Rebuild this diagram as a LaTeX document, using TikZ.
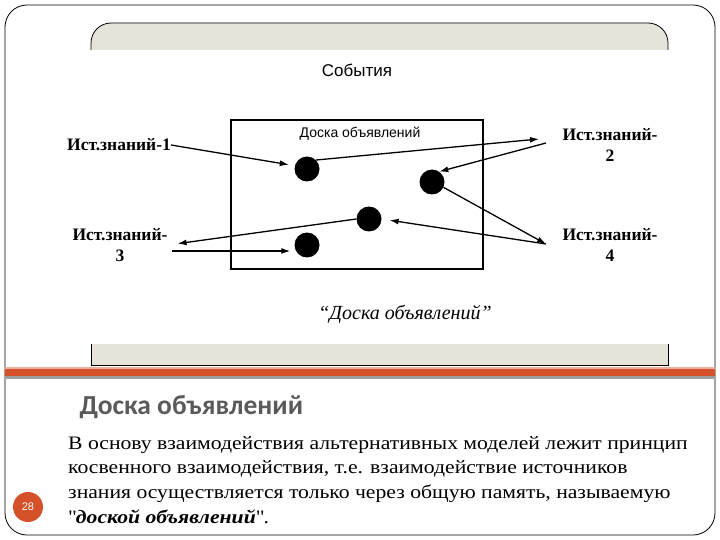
\documentclass[tikz,border=0pt]{standalone}
\usepackage{fontspec}
\setmainfont{Liberation Serif}
\newfontfamily\bodyfont[FakeStretch=1.14]{Liberation Serif}
\newfontfamily\headfont{Carlito}
\newfontfamily\labelfont{Liberation Sans}
\usetikzlibrary{arrows.meta, positioning}

\definecolor{bandgray}{HTML}{E6E3DA}
\definecolor{slideorange}{HTML}{D4512A}
\definecolor{headgray}{HTML}{5A5A5A}

\begin{document}
\begin{tikzpicture}[x=1pt, y=-1pt,
    src/.style={font=\bfseries\fontsize{17.5}{21}\selectfont, align=center, inner sep=0pt},
    dot/.style={circle, fill=black, minimum size=25pt, inner sep=0pt},
    link/.style={-{Latex[length=9pt, width=6pt]}, line width=1.3pt}]
  \useasboundingbox (0,0) rectangle (720,540);

  % Slide frame
  \draw[line width=0.8pt, rounded corners=22pt] (5,5) rectangle (715,535);

  % Picture panel, top tab and bottom strip
  \fill[bandgray, rounded corners=20pt] (91,50) -- (91,23) -- (668,23) -- (668,50);
  \draw[line width=0.8pt, rounded corners=20pt] (91,50) -- (91,23) -- (668,23) -- (668,50);
  \fill[bandgray] (91,344) rectangle (668,365);
  \draw[line width=0.8pt] (91,344) |- (668,365) -- (668,344);

  % Orange band
  \fill[slideorange!45] (5,366.5) rectangle (715,369);
  \fill[slideorange] (5,369) rectangle (715,376);
  \fill[gray!75] (5,376) rectangle (715,379);

  % Board
  \node[font=\labelfont\fontsize{17}{17}\selectfont] (events) at (357,70) {События};
  \draw[line width=1.6pt] (231,120) rectangle (483,269);
  \node[font=\labelfont\fontsize{14}{14}\selectfont] (boardtitle) at (360,134) {Доска объявлений};

  \node[dot] (d1) at (307,169) {};
  \node[dot] (d2) at (432,182) {};
  \node[dot] (d3) at (369,219) {};
  \node[dot] (d4) at (307,245) {};

  % Knowledge sources
  \node[src] (ist1) at (119,145) {Ист.знаний-1};
  \node[src] (ist2) at (610,145) {Ист.знаний-\\2};
  \node[src] (ist3) at (120,245) {Ист.знаний-\\3};
  \node[src] (ist4) at (610,245) {Ист.знаний-\\4};

  \coordinate (ist2in) at (539,139);
  \coordinate (ist2out) at (546,143);
  \coordinate (ist4in) at (546,244);
  \coordinate (ist3out) at (172,251);

  % Arrows
  \draw[link, shorten >=6pt] (ist1.east) -- (d1.165);
  \draw[link] (d1.45) -- (ist2in);
  \draw[link] (ist2out) -- (d2.55);
  \draw[link] (d2.-25) -- (ist4in);
  \draw[link, shorten >=8pt] (ist4in) -- (d3.east);
  \draw[link, shorten >=10pt] (d3.west) -- (ist3.east);
  \draw[link, shorten >=4pt] (ist3out) -- (ist3out -| d4.west);

  \node[font=\itshape\fontsize{20}{20}\selectfont] (caption) at (405,314) {“Доска объявлений”};

  % Slide text
  \node[anchor=west, font=\headfont\bfseries\fontsize{27.5}{27.5}\selectfont, text=headgray] (title) at (76,407) {Доска объявлений};
  \node[anchor=north west, align=left, inner sep=0pt, font=\bodyfont\fontsize{19}{24.7}\selectfont] (body) at (68,436)
    {В основу взаимодействия альтернативных моделей лежит принцип\\
     косвенного взаимодействия, т.е. взаимодействие источников\\
     знания осуществляется только через общую память, называемую\\
     \textquotedbl\textbf{\textit{доской объявлений}}\textquotedbl.};
  \node[circle, fill=slideorange, minimum size=30pt, inner sep=0pt, text=white, font=\labelfont\fontsize{11}{11}\selectfont] (pagenum) at (28,507) {28};
\end{tikzpicture}
\end{document}
